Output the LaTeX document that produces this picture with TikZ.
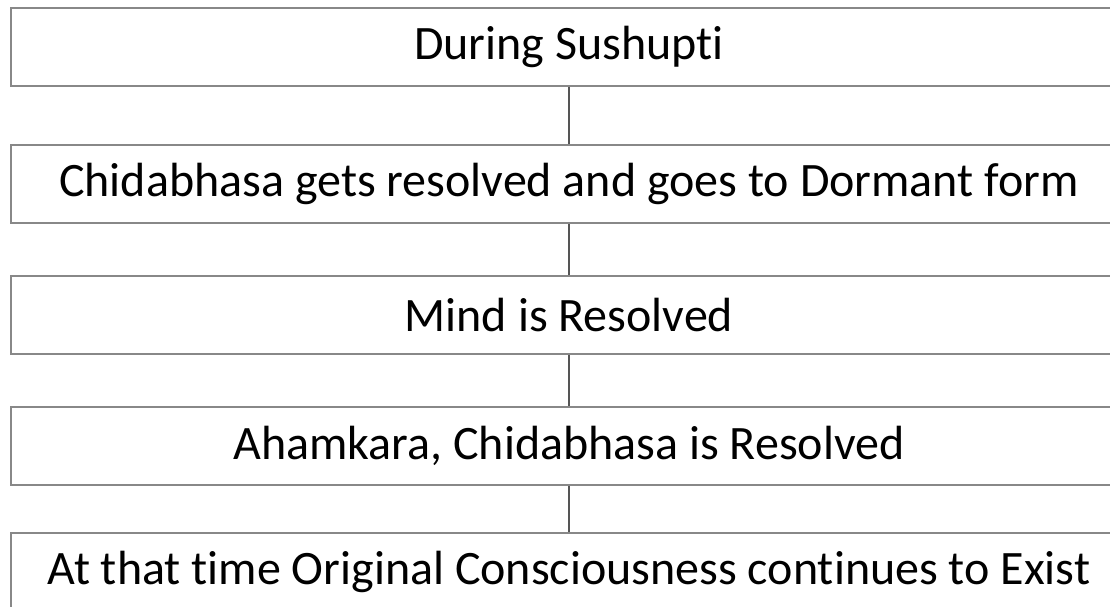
\documentclass[tikz,border=0pt]{standalone}
\usepackage{fontspec}
\setmainfont[Ligatures=NoCommon]{Carlito}
\usetikzlibrary{positioning}

\definecolor{boxgray}{RGB}{136,136,136}
\definecolor{linkgray}{RGB}{85,85,85}

\begin{document}
\begin{tikzpicture}[
    x=1pt, y=-1pt,
    stage/.style={rectangle, draw=boxgray, line width=1.5pt, minimum width=1116pt,
                  minimum height=78pt, inner sep=0pt,
                  font=\fontsize{48}{58}\selectfont},
    link/.style={draw=linkgray, line width=1.5pt}
]
\useasboundingbox (0,0) rectangle (1110,606);
\clip (0,0) rectangle (1110,606);

% stages
\node[stage] (s1) at (569,47)  {During Sushupti};
\node[stage] (s2) at (569,184) {Chidabhasa gets resolved and goes to Dormant form};
\node[stage] (s3) at (569,315) {Mind is Resolved};
\node[stage] (s4) at (569,446) {Ahamkara, Chidabhasa is Resolved};
\node[stage] (s5) at (569,572) {At that time Original Consciousness continues to Exist};

% links
\draw[link] (s1) -- (s2);
\draw[link] (s2) -- (s3);
\draw[link] (s3) -- (s4);
\draw[link] (s4) -- (s5);
\end{tikzpicture}
\end{document}
